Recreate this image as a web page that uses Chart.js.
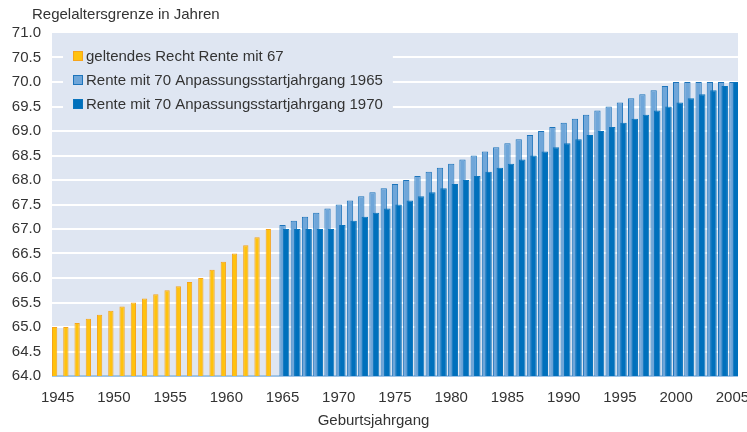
<!DOCTYPE html>
<html>
<head>
<meta charset="utf-8">
<script src="https://cdn.jsdelivr.net/npm/chart.js@4.4.1/dist/chart.umd.min.js"></script>
<style>
  body { margin: 0; background: #fff; }
</style>
</head>
<body>
<canvas id="chart" width="747" height="432"></canvas>
<script>
// Geburtsjahrgaenge
const years = [
  1945, 1946, 1947, 1948, 1949, 1950, 1951, 1952, 1953, 1954,
  1955, 1956, 1957, 1958, 1959, 1960, 1961, 1962, 1963, 1964,
  1965, 1966, 1967, 1968, 1969, 1970, 1971, 1972, 1973, 1974,
  1975, 1976, 1977, 1978, 1979, 1980, 1981, 1982, 1983, 1984,
  1985, 1986, 1987, 1988, 1989, 1990, 1991, 1992, 1993, 1994,
  1995, 1996, 1997, 1998, 1999, 2000, 2001, 2002, 2003, 2004, 2005
];

// geltendes Recht, Jahrgang 1945 - 1964
const renteMit67 = [
  65.0, 65.0, 65.083, 65.167, 65.25, 65.333, 65.417, 65.5, 65.583, 65.667,
  65.75, 65.833, 65.917, 66.0, 66.167, 66.333, 66.5, 66.667, 66.833, 67.0
];

// Rente mit 70, Jahrgang 1965 - 2005
const rente70Start1965 = [
  67.083, 67.167, 67.25, 67.333, 67.417,
  67.5, 67.583, 67.667, 67.75, 67.833,
  67.917, 68.0, 68.083, 68.167, 68.25,
  68.333, 68.417, 68.5, 68.583, 68.667,
  68.75, 68.833, 68.917, 69.0, 69.083,
  69.167, 69.25, 69.333, 69.417, 69.5,
  69.583, 69.667, 69.75, 69.833, 69.917,
  70.0, 70.0, 70.0, 70.0, 70.0, 70.0
];

const rente70Start1970 = [
  67.0, 67.0, 67.0, 67.0, 67.0,
  67.083, 67.167, 67.25, 67.333, 67.417,
  67.5, 67.583, 67.667, 67.75, 67.833,
  67.917, 68.0, 68.083, 68.167, 68.25,
  68.333, 68.417, 68.5, 68.583, 68.667,
  68.75, 68.833, 68.917, 69.0, 69.083,
  69.167, 69.25, 69.333, 69.417, 69.5,
  69.583, 69.667, 69.75, 69.833, 69.917, 70.0
];

const seriesNames = [
  "geltendes Recht Rente mit 67",
  "Rente mit 70 Anpassungsstartjahrgang 1965",
  "Rente mit 70 Anpassungsstartjahrgang 1970"
];

const yMin = 64;
const yMax = 71;
const yStep = 0.5;

const yTitle = "Regelaltersgrenze in Jahren";
const xTitle = "Geburtsjahrgang";

//fill up the series so every one spans all years
const firstYear = years[0];
const lastYear = years[years.length - 1];
function padSeries(values, startYear) {
  const out = years.map(() => null);
  for (let i = 0; i < values.length; i++) {
    out[startYear - firstYear + i] = values[i];
  }
  return out;
}

const FONT = '"Liberation Sans", Arial, sans-serif';
const FONT_SIZE = 15;
Chart.defaults.font.family = FONT;
Chart.defaults.font.size = FONT_SIZE;
Chart.defaults.color = "#333";

//hidden linear axes, shifted a bit so the bars sit like in the original
function shiftedAxis(shift) {
  return {
    type: "linear",
    display: false,
    offset: false,
    bounds: "data",
    min: firstYear - 0.5 - shift,
    max: lastYear + 0.5 - shift
  };
}

const decor = {
  id: "decor",
  beforeDraw(chart) {
    const { ctx, chartArea: a } = chart;
    ctx.save();
    ctx.fillStyle = "#dfe6f2";
    ctx.fillRect(a.left, a.top, a.right - a.left, a.bottom - a.top);
    ctx.restore();
  },
  beforeDatasetsDraw(chart) {
    //legend inside the plot area
    const { ctx, chartArea: a } = chart;
    const sets = chart.data.datasets;
    ctx.save();
    ctx.font = FONT_SIZE + "px " + FONT;
    const boxX = a.left + 21;
    const textX = boxX + 13;
    let maxW = 0;
    for (const d of sets) maxW = Math.max(maxW, ctx.measureText(d.label).width);
    ctx.fillStyle = "#dfe6f2";
    ctx.fillRect(a.left + 11, a.top + 12, textX + maxW + 10 - (a.left + 11), 73);
    sets.forEach((d, i) => {
      const y = a.top + 23 + i * 24;
      ctx.fillStyle = d.backgroundColor;
      ctx.fillRect(boxX, y - 5, 10, 10);
      ctx.strokeStyle = d.borderColor;
      ctx.lineWidth = 1;
      ctx.strokeRect(boxX + 0.5, y - 4.5, 9, 9);
      ctx.fillStyle = "#333";
      ctx.textBaseline = "middle";
      ctx.textAlign = "left";
      ctx.fillText(d.label, textX, y + 1);
    });
    ctx.restore();
  },
  afterDraw(chart) {
    const { ctx, width } = chart;
    ctx.save();
    ctx.font = FONT_SIZE + "px " + FONT;
    ctx.fillStyle = "#333";
    ctx.textBaseline = "middle";
    ctx.textAlign = "left";
    ctx.fillText(yTitle, 32, 15);
    ctx.textAlign = "center";
    ctx.fillText(xTitle, width / 2, 421);
    ctx.restore();
  }
};

const ctx = document.getElementById("chart").getContext("2d");
const chart = new Chart(ctx, {
  type: "bar",
  data: {
    labels: years,
    datasets: [
      {
        label: seriesNames[0],
        data: padSeries(renteMit67, 1945),
        xAxisID: "xA",
        grouped: false,
        categoryPercentage: 1,
        barPercentage: 0.47,
        backgroundColor: "#ffc20e",
        borderColor: "#f6a41c",
        borderWidth: 1,
        order: 0
      },
      {
        label: seriesNames[1],
        data: padSeries(rente70Start1965, 1965),
        xAxisID: "xB",
        grouped: false,
        categoryPercentage: 1,
        barPercentage: 0.56,
        backgroundColor: "#6fa6d9",
        borderColor: "#1d74bb",
        borderWidth: 1,
        order: 2
      },
      {
        label: seriesNames[2],
        data: padSeries(rente70Start1970, 1965),
        xAxisID: "xC",
        grouped: false,
        categoryPercentage: 1,
        barPercentage: 0.58,
        backgroundColor: "#0070bc",
        borderColor: "#0a74bd",
        borderWidth: 1,
        order: 1
      }
    ]
  },
  options: {
    responsive: false,
    animation: false,
    layout: { padding: { top: 33, right: 9, left: 0, bottom: 0 } },
    plugins: {
      legend: { display: false },
      tooltip: { enabled: false }
    },
    scales: {
      x: {
        type: "category",
        offset: true,
        grid: { display: false, drawTicks: false },
        border: { display: false },
        ticks: {
          autoSkip: false,
          maxRotation: 0,
          padding: 13,
          callback: (v, i) => (years[i] % 5 === 0 ? String(years[i]) : "")
        },
        afterFit(s) {
          s.height = 56;
          s.paddingLeft = 0;
          s.paddingRight = 0;
        }
      },
      xA: shiftedAxis(-0.267),
      xB: shiftedAxis(0),
      xC: shiftedAxis(0.316),
      y: {
        type: "linear",
        min: yMin,
        max: yMax,
        ticks: {
          stepSize: yStep,
          padding: 11,
          callback: (v) => v.toFixed(1)
        },
        grid: {
          drawTicks: false,
          lineWidth: 2,
          color: (c) => {
            if (c.tick.value === yMin) return "#9fc4e7";
            if (c.tick.value === yMax) return "rgba(0,0,0,0)";
            return "#ffffff";
          }
        },
        border: { display: false },
        afterFit(s) {
          s.width = 52;
          s.paddingTop = 0;
          s.paddingBottom = 0;
        }
      }
    }
  },
  plugins: [decor]
});
</script>
</body>
</html>
